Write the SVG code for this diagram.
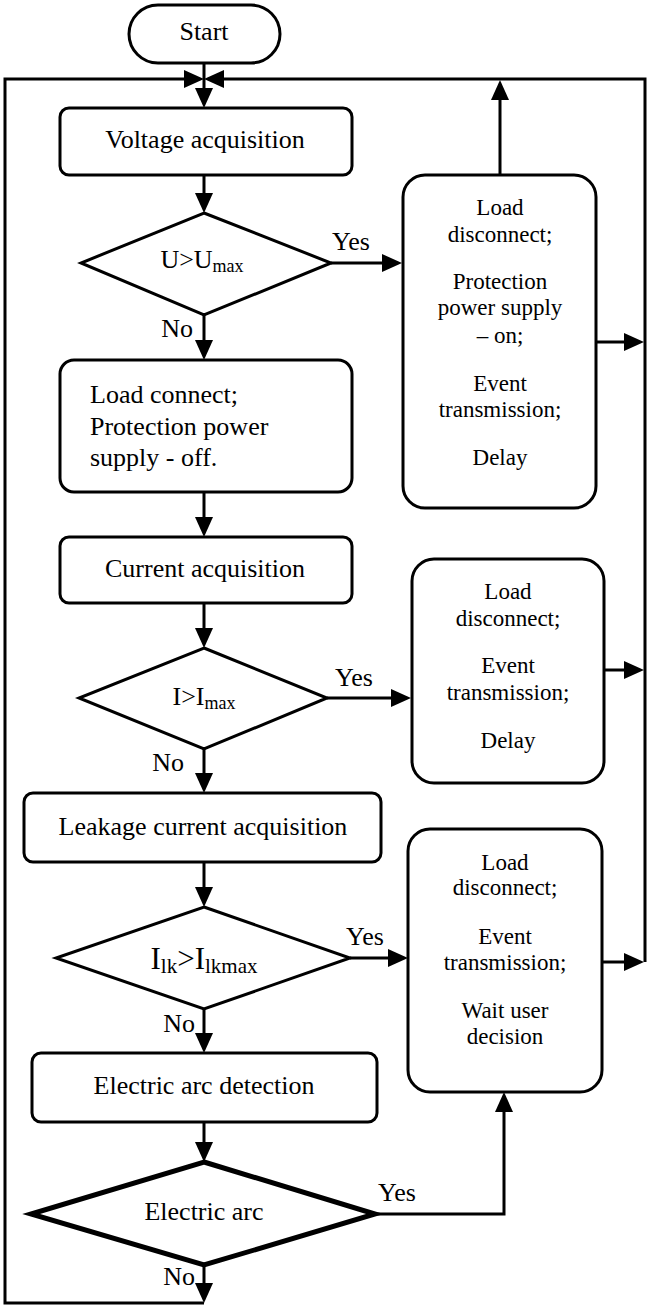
<svg xmlns="http://www.w3.org/2000/svg" width="650" height="1312" viewBox="0 0 650 1312">
<style>
.box{fill:#fff;stroke:#000;stroke-width:3}
.dia{fill:#fff;stroke:#000;stroke-width:3;stroke-linejoin:miter}
.thick{stroke-width:5}
.conn{fill:none;stroke:#000;stroke-width:3}
text{font-family:"Liberation Serif","Times New Roman",serif;fill:#000}
.t{font-size:26px}
.s{font-size:23px}
.m{text-anchor:middle}
.e{text-anchor:end}
</style>
<defs>
<marker id="ah" markerUnits="userSpaceOnUse" markerWidth="20" markerHeight="18" refX="10" refY="9" orient="auto"><path d="M0,0 L20,9 L0,18 z" fill="#000"/></marker>
</defs>
<rect width="650" height="1312" fill="#fff"/>
<g id="connectors" class="conn" marker-end="url(#ah)">
<path d="M204,63 L204,98"/>
<path d="M204,175 L204,203"/>
<path d="M331,263 L392,263"/>
<path d="M204,315 L204,350"/>
<path d="M204,492 L204,527"/>
<path d="M204,603 L204,638"/>
<path d="M327,698 L401,698"/>
<path d="M204,749 L204,783"/>
<path d="M204,862 L204,897"/>
<path d="M350,958 L398,958"/>
<path d="M204,1009 L204,1043"/>
<path d="M204,1122 L204,1152"/>
<path d="M375,1214 L504,1214 L504,1102"/>
<path d="M204,1265 L204,1293"/>
<path d="M204,1303 L5,1303 L5,79 L194,79"/>
<path d="M500,175 L500,90"/>
<path d="M596,342 L634,342"/>
<path d="M604,670 L634,670"/>
<path d="M602,962 L634,962"/>
<path d="M645,962 L645,79 L214,79"/>
</g>
<g id="start"><rect class="box" x="129" y="5" width="151" height="58" rx="29"/><text class="t m" x="204" y="40">Start</text></g>
<g id="voltage"><rect class="box" x="60" y="108" width="292" height="67" rx="9"/><text class="t m" x="205" y="148">Voltage acquisition</text></g>
<g id="d1"><polygon class="dia" points="204,213 331,263 204,315 81,263"/><text class="t m" x="202" y="268">U&gt;U<tspan font-size="18" dy="4">max</tspan></text></g>
<g id="loadconnect"><rect class="box" x="60" y="360" width="292" height="132" rx="14"/><text class="t" x="90" y="403">Load connect;</text><text class="t" x="90" y="435">Protection power</text><text class="t" x="90" y="466">supply - off.</text></g>
<g id="current"><rect class="box" x="60" y="537" width="292" height="66" rx="9"/><text class="t m" x="205" y="577">Current acquisition</text></g>
<g id="d2"><polygon class="dia" points="204,648 327,698 204,749 79,698"/><text class="t m" x="204" y="705">I&gt;I<tspan font-size="18" dy="4">max</tspan></text></g>
<g id="leakage"><rect class="box" x="24" y="793" width="357" height="69" rx="9"/><text class="t m" x="203" y="835">Leakage current acquisition</text></g>
<g id="d3"><polygon class="dia" points="204,907 350,958 204,1009 56,958"/><text class="m" font-size="31" x="204" y="969">I<tspan font-size="21" dy="4">lk</tspan><tspan dy="-4">&gt;I</tspan><tspan font-size="21" dy="4">lkmax</tspan></text></g>
<g id="arcdet"><rect class="box" x="32" y="1053" width="345" height="69" rx="9"/><text class="t m" x="204" y="1094">Electric arc detection</text></g>
<g id="d4"><polygon class="dia thick" points="204,1162 375,1214 204,1265 31,1214"/><text class="t m" x="204" y="1220">Electric arc</text></g>
<g id="r1"><rect class="box" x="403" y="175" width="193" height="333" rx="22"/>
<text class="s m" x="500" y="215">Load</text><text class="s m" x="500" y="242">disconnect;</text>
<text class="s m" x="500" y="289">Protection</text><text class="s m" x="500" y="315">power supply</text><text class="s m" x="500" y="343">– on;</text>
<text class="s m" x="500" y="391">Event</text><text class="s m" x="500" y="417">transmission;</text>
<text class="s m" x="500" y="465">Delay</text></g>
<g id="r2"><rect class="box" x="412" y="559" width="192" height="224" rx="22"/>
<text class="s m" x="508" y="599">Load</text><text class="s m" x="508" y="626">disconnect;</text>
<text class="s m" x="508" y="673">Event</text><text class="s m" x="508" y="700">transmission;</text>
<text class="s m" x="508" y="748">Delay</text></g>
<g id="r3"><rect class="box" x="408" y="829" width="194" height="263" rx="22"/>
<text class="s m" x="505" y="870">Load</text><text class="s m" x="505" y="895">disconnect;</text>
<text class="s m" x="505" y="944">Event</text><text class="s m" x="505" y="970">transmission;</text>
<text class="s m" x="505" y="1018">Wait user</text><text class="s m" x="505" y="1044">decision</text></g>
<g id="labels">
<text class="t" x="332" y="250">Yes</text><text class="t e" x="193" y="337">No</text>
<text class="t" x="335" y="686">Yes</text><text class="t e" x="184" y="771">No</text>
<text class="t" x="346" y="945">Yes</text><text class="t e" x="195" y="1032">No</text>
<text class="t" x="378" y="1201">Yes</text><text class="t e" x="195" y="1285">No</text>
</g>
</svg>
